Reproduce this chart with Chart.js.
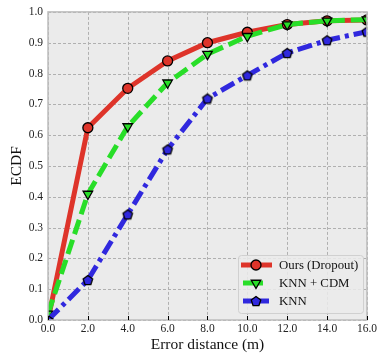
<!DOCTYPE html>
<html>
<head>
<meta charset="utf-8">
<script src="https://cdn.jsdelivr.net/npm/chart.js@4/dist/chart.umd.min.js"></script>
<style>
  html, body { margin: 0; padding: 0; background: #ffffff; }
  #wrap { width: 379px; height: 359px; }
</style>
</head>
<body>
<div id="wrap"><canvas id="c" width="379" height="359"></canvas></div>
<script>
// Error distances (m) at which the ECDF is sampled
const distances = [0, 2, 4, 6, 8, 10, 12, 14, 16];
// ECDF values per method
const oursDropout = [0.00, 0.624, 0.752, 0.841, 0.900, 0.934, 0.959, 0.971, 0.974];
const knnCdm      = [0.02, 0.409, 0.628, 0.770, 0.863, 0.921, 0.959, 0.971, 0.975];
const knn         = [0.00, 0.130, 0.343, 0.554, 0.719, 0.794, 0.867, 0.908, 0.936];
const seriesNames = ['Ours (Dropout)', 'KNN + CDM', 'KNN'];
const yTicks = [0, 0.1, 0.2, 0.3, 0.4, 0.5, 0.6, 0.7, 0.8, 0.9, 1.0];

const RED = 'rgb(222,52,42)';
const GREEN = 'rgb(40,222,40)';
const BLUE = 'rgb(48,40,222)';
const SERIF = '"Liberation Serif", "DejaVu Serif", serif';

// pentagon marker drawn onto a small canvas
function pentagon(r, fill) {
  const s = Math.ceil(r * 2 + 4);
  const cv = document.createElement('canvas');
  cv.width = s; cv.height = s;
  const g = cv.getContext('2d');
  g.beginPath();
  for (let i = 0; i < 5; i++) {
    const a = -Math.PI / 2 + i * 2 * Math.PI / 5;
    const x = s / 2 + r * Math.cos(a), y = s / 2 + r * Math.sin(a) + 0.5;
    if (i === 0) g.moveTo(x, y); else g.lineTo(x, y);
  }
  g.closePath();
  g.fillStyle = fill; g.fill();
  g.lineWidth = 1.3; g.strokeStyle = '#000'; g.stroke();
  return cv;
}
const pent = pentagon(5, BLUE);

function pts(ys) { return distances.map((x, i) => ({ x: x, y: ys[i] })); }

const datasets = [
  { label: seriesNames[0], data: pts(oursDropout), borderColor: RED, backgroundColor: RED,
    borderWidth: 5, pointStyle: 'circle', pointRadius: 5, pointBorderColor: '#000',
    pointBorderWidth: 1.3, pointBackgroundColor: RED, order: 3 },
  { label: seriesNames[1], data: pts(knnCdm), borderColor: GREEN, backgroundColor: GREEN,
    borderWidth: 5, borderDash: [15, 6], pointStyle: 'triangle', pointRotation: 180,
    pointRadius: 5.5, pointBorderColor: '#000', pointBorderWidth: 1.3,
    pointBackgroundColor: GREEN, order: 2 },
  { label: seriesNames[2], data: pts(knn), borderColor: BLUE, backgroundColor: BLUE,
    borderWidth: 5, borderDash: [15, 5, 4, 5], pointStyle: pent, pointRadius: 5,
    order: 1 }
];

// plot background, dashed grid, frame and inward bottom ticks
const frame = {
  id: 'frame',
  beforeDatasetsDraw(chart) {
    const { ctx, chartArea: a, scales } = chart;
    ctx.save();
    ctx.fillStyle = '#ebebeb';
    ctx.fillRect(a.left, a.top, a.right - a.left, a.bottom - a.top);
    ctx.strokeStyle = '#b0b0b0';
    ctx.lineWidth = 1;
    ctx.setLineDash([3, 2]);
    distances.forEach(d => {
      const x = Math.round(scales.x.getPixelForValue(d)) + 0.5;
      ctx.beginPath(); ctx.moveTo(x, a.top); ctx.lineTo(x, a.bottom); ctx.stroke();
    });
    yTicks.forEach(v => {
      const y = Math.round(scales.y.getPixelForValue(v)) + 0.5;
      ctx.beginPath(); ctx.moveTo(a.left, y); ctx.lineTo(a.right, y); ctx.stroke();
    });
    ctx.restore();
  },
  afterDatasetsDraw(chart) {
    const { ctx, chartArea: a, scales } = chart;
    ctx.save();
    ctx.strokeStyle = '#bdbdbd';
    ctx.lineWidth = 1.5;
    ctx.strokeRect(a.left, a.top, a.right - a.left, a.bottom - a.top);
    ctx.strokeStyle = '#000';
    ctx.lineWidth = 1;
    distances.forEach(d => {
      const x = Math.round(scales.x.getPixelForValue(d)) + 0.5;
      ctx.beginPath(); ctx.moveTo(x, a.bottom); ctx.lineTo(x, a.bottom - 4); ctx.stroke();
    });
    ctx.restore();
  }
};

// legend: line sample with centred marker
const legendBox = {
  id: 'legendBox',
  afterDraw(chart) {
    const { ctx } = chart;
    const bx = 238, by = 255, bw = 125, bh = 58;
    const samples = [[241, 272], [243, 263], [243, 269]];
    ctx.save();
    ctx.fillStyle = 'rgba(235,235,235,0.85)';
    ctx.strokeStyle = '#d0d0d0';
    ctx.lineWidth = 1;
    ctx.beginPath();
    ctx.roundRect(bx + 0.5, by + 0.5, bw, bh, 3);
    ctx.fill(); ctx.stroke();
    datasets.forEach((ds, i) => {
      const cy = by + 10 + i * 18;
      const [x0, x1] = samples[i];
      const cx = 256;
      ctx.strokeStyle = ds.borderColor;
      ctx.lineWidth = 5;
      ctx.beginPath();
      ctx.moveTo(x0, cy);
      ctx.lineTo(x1, cy);
      ctx.stroke();
      ctx.fillStyle = ds.pointBackgroundColor || ds.borderColor;
      ctx.strokeStyle = '#000';
      ctx.lineWidth = 1.3;
      Chart.helpers.drawPoint(ctx, {
        pointStyle: ds.pointStyle, rotation: ds.pointRotation || 0,
        radius: ds.pointRadius, borderWidth: 1.3
      }, cx, cy);
      ctx.fillStyle = '#111';
      ctx.font = '12.8px ' + SERIF;
      ctx.textBaseline = 'middle';
      ctx.fillText(ds.label, 279, cy + 1);
    });
    ctx.restore();
  }
};

new Chart(document.getElementById('c'), {
  type: 'line',
  data: { datasets: datasets },
  plugins: [frame, legendBox],
  options: {
    responsive: false,
    animation: false,
    devicePixelRatio: 1,
    layout: { padding: { top: 6, right: 10, left: 0, bottom: 0 } },
    elements: { line: { tension: 0, borderCapStyle: 'butt', fill: false } },
    datasets: { line: { clip: 0 } },
    plugins: { legend: { display: false }, tooltip: { enabled: false } },
    scales: {
      x: {
        type: 'linear', min: 0, max: 16,
        afterFit(s) { s.height = 39; },
        ticks: { stepSize: 2, padding: 2, color: '#222', maxRotation: 0,
          font: { family: SERIF, size: 11.5 }, callback: v => v.toFixed(1) },
        grid: { display: false, drawTicks: false },
        border: { display: false },
        title: { display: true, text: 'Error distance (m)', color: '#111',
          font: { family: SERIF, size: 15.5 }, padding: { top: 2, bottom: 5 } }
      },
      y: {
        min: 0, max: 1,
        afterFit(s) { s.width = 48; },
        ticks: { stepSize: 0.1, padding: 5, color: '#222',
          font: { family: SERIF, size: 11.5 }, callback: v => v.toFixed(1) },
        grid: { display: false, drawTicks: false },
        border: { display: false },
        title: { display: true, text: 'ECDF', color: '#111',
          font: { family: SERIF, size: 15.5 }, padding: { top: 8, bottom: 2 } }
      }
    }
  }
});
</script>
</body>
</html>
